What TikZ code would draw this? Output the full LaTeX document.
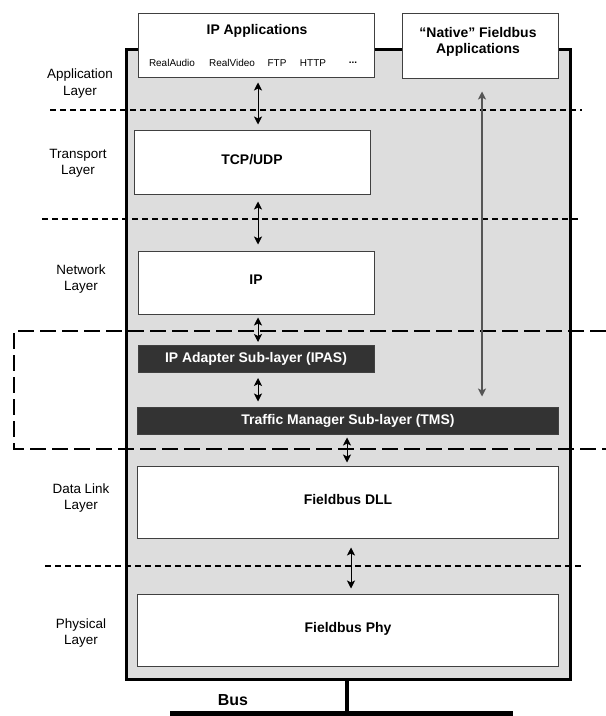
\documentclass[tikz,border=0pt]{standalone}
\usepackage{fontspec}
\setmainfont{Liberation Sans}
\usetikzlibrary{arrows.meta,calc,positioning}
\def\layerfont{\fontsize{13.5}{16.5}\selectfont}
\def\boxfont{\fontsize{14}{16}\selectfont\bfseries}
\def\appfont{\fontsize{10}{12}\selectfont}
\def\busfont{\fontsize{16}{18}\selectfont\bfseries}
\definecolor{stackgray}{HTML}{DDDDDD}
\definecolor{subdark}{HTML}{333333}
\definecolor{linkgray}{HTML}{555555}

\tikzset{
  stackbox/.style={draw=black, line width=3bp, fill=stackgray, inner sep=0},
  layerbox/.style={draw=black!75, line width=1bp, fill=white, inner sep=0,
    font=\boxfont, text height=10bp, text depth=6bp},
  subbox/.style={draw=black!75, line width=1bp, fill=subdark, text=white,
    inner sep=0, font=\boxfont},
  layername/.style={align=center, font=\layerfont},
  sepline/.style={dash pattern=on 6bp off 4bp, line width=1.5bp},
  subframe/.style={dash pattern=on 16bp off 6bp, line width=2bp},
  twoway/.style={{Stealth[length=8bp,width=8bp,inset=2bp]}-{Stealth[length=8bp,width=8bp,inset=2bp]}, line width=0.9bp},
  busline/.style={line width=5bp}
}

\begin{document}
\begin{tikzpicture}[x=1bp,y=-1bp]
  \useasboundingbox (0,0) rectangle (606,716);

  % protocol stack
  \node[stackbox, minimum width=443bp, minimum height=629bp] (stack) at (348.5,364.5) {};

  \coordinate (sepA) at (50,110);
  \coordinate (sepB) at (42,219);
  \coordinate (sepC) at (45,566);
  \draw[sepline] (sepA) -- ++(532,0);
  \draw[sepline] (sepB) -- ++(536,0);
  \draw[sepline] (sepC) -- ++(537,0);
  \draw[subframe] (606,331) -- (14,331) -- (14,449) -- (606,449);

  \node[layername] (applayer) at (80,83.5) {Application\\Layer};
  \node[layername] (translayer) at (78,163) {Transport\\Layer};
  \node[layername] (netlayer) at (81,279) {Network\\Layer};
  \node[layername] (dlllayer) at (81,498) {Data Link\\Layer};
  \node[layername] (phylayer) at (81,633) {Physical\\Layer};

  \node[layerbox, minimum width=236bp, minimum height=64bp] (ipapp) at (256,46) {};
  \node[font=\boxfont] (ipapptitle) at (257,31) {IP Applications};
  \node[font=\appfont] (realaudio) at (172,63) {RealAudio};
  \node[font=\appfont] (realvideo) at (232,63) {RealVideo};
  \node[font=\appfont] (ftp) at (277,63) {FTP};
  \node[font=\appfont] (http) at (313,63) {HTTP};
  \node[font=\appfont\bfseries] (more) at (353,63) {...};

  \node[layerbox, minimum width=156bp, minimum height=65bp] (native) at (480,46.5) {};
  \node[font=\boxfont, align=center] (nativetitle) at (478,42) {``Native'' Fieldbus\\Applications};

  \node[layerbox, minimum width=236bp, minimum height=63bp] (tcp) at (252,162.5) {TCP/UDP};
  \node[layerbox, minimum width=236bp, minimum height=63bp] (ip) at (256,282.5) {IP};
  \node[subbox, minimum width=236bp, minimum height=27bp] (ipas) at (256,359) {IP Adapter Sub-layer (IPAS)};
  \node[subbox, minimum width=420bp, minimum height=27bp] (tms) at (348,420.5) {Traffic Manager Sub-layer (TMS)};
  \node[layerbox, minimum width=420bp, minimum height=72bp] (dll) at (348,502) {Fieldbus DLL};
  \node[layerbox, minimum width=420bp, minimum height=72bp] (phy) at (348,630) {Fieldbus Phy};

  % service access arrows
  \coordinate (ax) at (258,0);
  \draw[twoway, shorten <=4bp, shorten >=6bp] (ax |- ipapp.south) -- (ax |- tcp.north);
  \draw[twoway, shorten <=7bp, shorten >=6bp] (ax |- tcp.south) -- (ax |- ip.north);
  \draw[twoway, shorten <=3bp, shorten >=3bp] (ax |- ip.south) -- (ax |- ipas.north);
  \draw[twoway, shorten <=5bp, shorten >=5bp] (ax |- ipas.south) -- (ax |- tms.north);
  \coordinate (bx) at (347,0);
  \draw[twoway, shorten <=3bp, shorten >=3bp] (bx |- tms.south) -- (bx |- dll.north);
  \coordinate (cx) at (351,0);
  \draw[twoway, shorten <=9bp, shorten >=5bp] (cx |- dll.south) -- (cx |- phy.north);
  \coordinate (nx) at (482,0);
  \draw[twoway, draw=linkgray, line width=1.2bp, shorten <=12bp, shorten >=10bp] (nx |- native.south) -- (nx |- tms.north);

  % bus
  \coordinate (busL) at (170,713);
  \coordinate (busR) at (513,713);
  \coordinate (tap) at (347,713);
  \draw[busline] (busL) -- (busR);
  \draw[line width=4bp] (tap |- stack.south) -- (tap);
  \node[font=\busfont] (buslabel) at (233,700) {Bus};
\end{tikzpicture}
\end{document}
